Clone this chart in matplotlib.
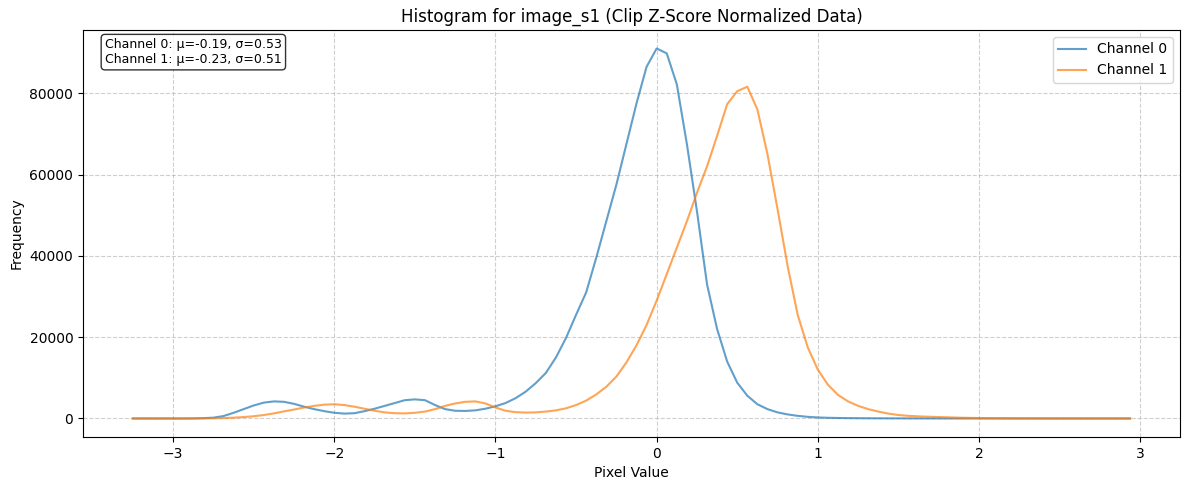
import numpy as np
import matplotlib
matplotlib.use('Agg')
import matplotlib.pyplot as plt

title = 'Histogram for image_s1 (Clip Z-Score Normalized Data)'
channel_names = ['Channel 0', 'Channel 1']
channel_means = [-0.19, -0.23]
channel_stds = [0.53, 0.51]

# histogram bin edges (100 bins)
bin_lo, bin_hi, n_bins = -3.28125, 2.96875, 100

ch0_counts = [
    0, 0, 0, 0, 0, 0, 20, 80, 200, 600,
    1400, 2300, 3200, 3900, 4200, 4100, 3600, 2900, 2300, 1800,
    1400, 1200, 1300, 1800, 2400, 3100, 3800, 4500, 4700, 4500,
    3300, 2300, 1900, 1850, 2000, 2400, 3000, 3800, 5000, 6600,
    8700, 11200, 15000, 19800, 25500, 31000, 39500, 48500, 57500, 67500,
    77500, 86500, 91000, 89800, 82200, 67500, 51000, 33000, 22000, 14000,
    8800, 5600, 3500, 2300, 1500, 1000, 650, 400, 250, 170,
    120, 90, 70, 50, 40, 30, 25, 20, 15, 10,
    8, 6, 5, 4, 3, 2, 2, 1, 1, 1,
    0, 0, 0, 0, 0, 0, 0, 0, 0, 0,
]

ch1_counts = [
    0, 0, 0, 0, 0, 0, 0, 20, 50, 100,
    200, 350, 550, 850, 1250, 1750, 2200, 2700, 3100, 3400,
    3500, 3300, 2900, 2400, 1900, 1500, 1300, 1250, 1400, 1700,
    2300, 3100, 3700, 4100, 4200, 3700, 2700, 1900, 1550, 1450,
    1500, 1700, 2000, 2500, 3300, 4400, 5900, 7800, 10300, 13800,
    18000, 23000, 29000, 35500, 42000, 48500, 55500, 62000, 69500, 77300,
    80500, 81600, 76000, 65000, 51500, 37500, 25500, 17500, 12000, 8300,
    5800, 4200, 3100, 2300, 1700, 1200, 850, 650, 520, 430,
    350, 280, 200, 150, 110, 80, 60, 45, 35, 25,
    20, 15, 12, 10, 8, 6, 5, 4, 3, 2,
]

edges = np.linspace(bin_lo, bin_hi, n_bins + 1)
centers = (edges[:-1] + edges[1:]) / 2

fig, ax = plt.subplots(figsize=(11.89, 4.9), dpi=100)

for name, counts in zip(channel_names, [ch0_counts, ch1_counts]):
    ax.plot(centers, counts, label=name, alpha=0.7, linewidth=1.5)

ax.set_title(title)
ax.set_xlabel('Pixel Value')
ax.set_ylabel('Frequency')
ax.grid(True, linestyle='--', alpha=0.6)
ax.legend(loc='upper right')

stats_text = '\n'.join(
    f'{n}: μ={m:.2f}, σ={s:.2f}'
    for n, m, s in zip(channel_names, channel_means, channel_stds)
)
ax.text(0.02, 0.98, stats_text, transform=ax.transAxes, fontsize=9,
        verticalalignment='top',
        bbox=dict(boxstyle='round', facecolor='white', alpha=0.8))

fig.subplots_adjust(left=0.0698, right=0.9924, top=0.9388, bottom=0.1082)
plt.savefig('out.png')
